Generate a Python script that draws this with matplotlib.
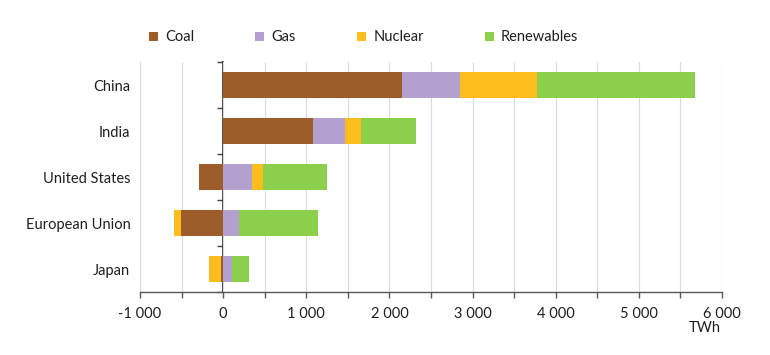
import numpy as np
import matplotlib
matplotlib.use('Agg')
import matplotlib.pyplot as plt
from matplotlib.patches import Patch

plt.rcParams['font.family'] = ['Lato', 'DejaVu Sans']

# data (TWh)
regions = ['China', 'India', 'United States', 'European Union', 'Japan']
series = ['Coal', 'Gas', 'Nuclear', 'Renewables']
coal = [2150, 1080, -290, -510, -25]
gas = [700, 380, 345, 195, 105]
nuclear = [920, 200, 130, -80, -140]
renewables = [1900, 660, 780, 950, 210]
xticks = [-1000, 0, 1000, 2000, 3000, 4000, 5000, 6000]
xticklabels = ['-1 000', '0', '1 000', '2 000', '3 000', '4 000', '5 000', '6 000']

cols = ['#9C5D2A', '#B3A0CF', '#FDBD1C', '#8CCF4D']
txt = '#1F1F1F'

fig = plt.figure(figsize=(7.7, 3.55), dpi=100)
ax = fig.add_axes([0.1818, 0.177, 0.7559, 0.648])

y = np.arange(len(regions))
pos = np.zeros(len(regions))
neg = np.zeros(len(regions))
for vals, c in zip([coal, gas, nuclear, renewables], cols):
    v = np.array(vals, dtype=float)
    left = np.where(v >= 0, pos, neg)
    ax.barh(y, v, left=left, height=0.56, color=c, zorder=3)
    pos += np.where(v >= 0, v, 0)
    neg += np.where(v < 0, v, 0)

ax.set_xlim(-1000, 6000)
ax.set_ylim(len(regions) - 0.5, -0.5)

ax.set_xticks(xticks)
ax.set_xticklabels(xticklabels, fontsize=10.5, color=txt)
ax.set_xticks(np.arange(-1000, 6001, 500), minor=True)
ax.tick_params(axis='x', which='both', direction='out', length=4, width=1, color='#595959', pad=7)
ax.grid(axis='x', which='both', color='#DADADA', linewidth=0.8, zorder=0)

ax.set_yticks(y)
ax.set_yticklabels(regions, fontsize=10.5, color=txt)
ax.tick_params(axis='y', length=0, pad=7)

for s in ['top', 'right', 'left']:
    ax.spines[s].set_visible(False)
ax.spines['bottom'].set_color('#595959')
ax.spines['bottom'].set_linewidth(1)

# vertical axis drawn at zero, ticks between categories
sec = ax.secondary_yaxis(1 / 7)
sec.set_yticks(np.arange(-0.5, len(regions), 1))
sec.set_yticklabels([])
sec.tick_params(direction='out', length=4, width=1, color='#404040')
sec.spines['left'].set_color('#262626')
sec.spines['left'].set_linewidth(1.2)
for s in ['top', 'right', 'bottom']:
    sec.spines[s].set_visible(False)

ax.text(0.997, -0.155, 'TWh', transform=ax.transAxes, ha='right', va='center', fontsize=10.5, color=txt)

handles = [Patch(facecolor=c, edgecolor='none') for c in cols]
fig.legend(handles, series, loc='center left', bbox_to_anchor=(0.1765, 0.895), ncol=4, frameon=False,
           handlelength=0.6, handleheight=0.6, handletextpad=0.5, columnspacing=4.2,
           prop={'size': 10.5}, labelcolor=txt)

fig.savefig('out.png', dpi=100)
